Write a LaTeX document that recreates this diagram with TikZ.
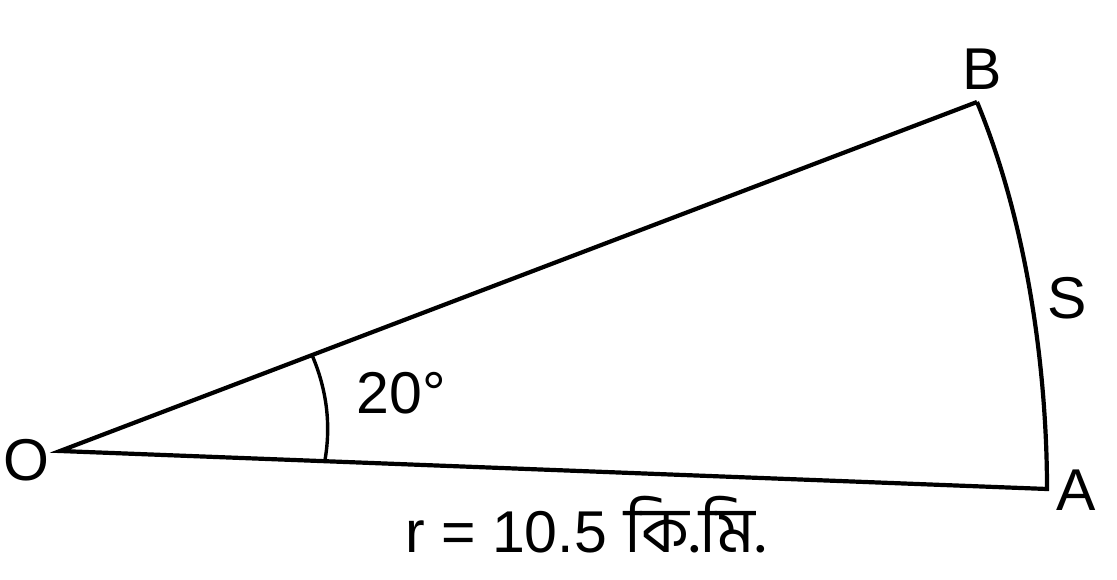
\documentclass[tikz,border=0pt]{standalone}
\usepackage{fontspec}
\setmainfont{Liberation Sans}
\newfontfamily\bnfont[Script=Bengali]{Hind Siliguri}
\begin{document}
\begin{tikzpicture}[x=1pt,y=-1pt,
  edge/.style={line width=4.2pt,line join=miter},
  anglearc/.style={line width=3.4pt},
  lbl/.style={font=\fontsize{59}{62}\selectfont,inner sep=0pt}]
\useasboundingbox (0,0) rectangle (1117,580);
\coordinate (O) at (60,451);
\coordinate (A) at (1047,489);
\coordinate (B) at (977,102);
\draw[edge] (B) -- (O) -- (A) .. controls (1047,380) and (1030,230) .. (B);
\draw[anglearc] (325,460) .. controls (331,425) and (327,390) .. (312,355);
\node[lbl,anchor=base] (lo) at (26,480) {O};
\node[lbl,anchor=base] (la) at (1076,510) {A};
\node[lbl,anchor=base] (lb) at (982,90) {B};
\node[lbl,anchor=base] (ls) at (1067,318) {S};
\node[lbl,anchor=base] (lang) at (401,413) {20°};
\node[lbl,anchor=base west,text depth=0pt] (lr) at (405,552) {r = 10.5\hspace{0.3em}{\bnfont\fontsize{64}{66}\selectfont কি.মি.}};
\end{tikzpicture}
\end{document}
